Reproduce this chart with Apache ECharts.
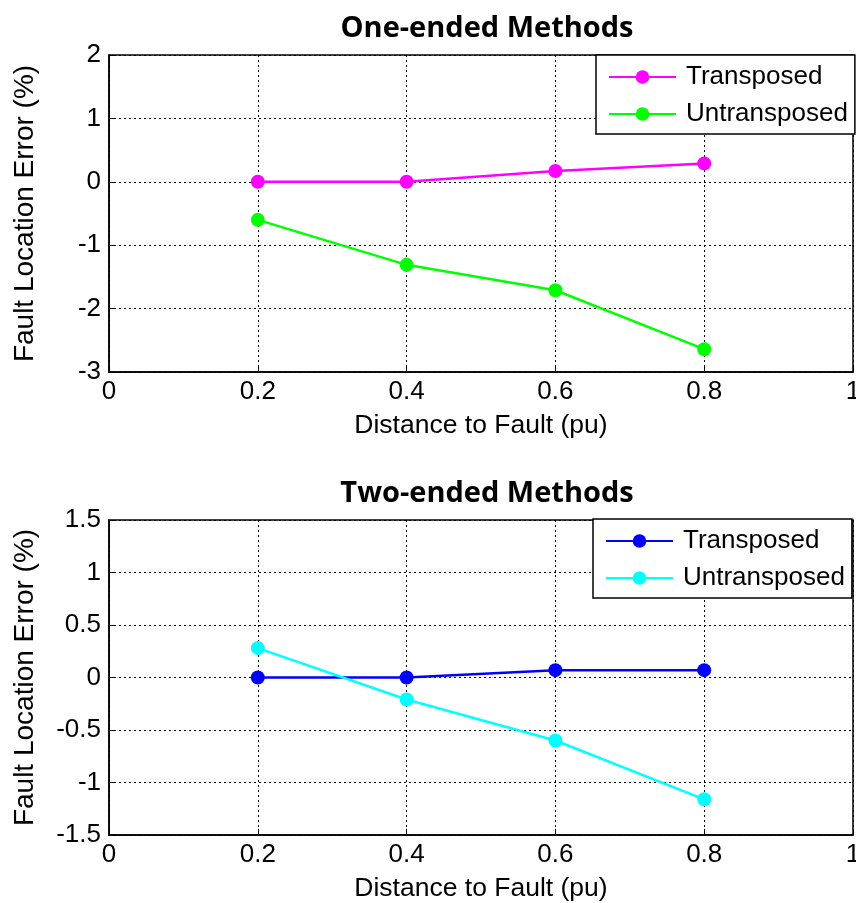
<!DOCTYPE html>
<html><head><meta charset="utf-8">
<script src="https://cdn.jsdelivr.net/npm/echarts@6/dist/echarts.min.js"></script>
<style>html,body{margin:0;padding:0;background:#fff}#c{width:856px;height:903px}</style>
</head><body><div id="c"></div>
<script>
const xValues = [0.2, 0.4, 0.6, 0.8];
const oneTransposed = [0.0, 0.0, 0.17, 0.29];
const oneUntransposed = [-0.60, -1.31, -1.71, -2.64];
const twoTransposed = [0.0, 0.0, 0.07, 0.07];
const twoUntransposed = [0.28, -0.21, -0.60, -1.16];
const titles = ['One-ended Methods', 'Two-ended Methods'];
const xName = 'Distance to Fault (pu)';
const yName = 'Fault Location Error (%)';
const legendNames = ['Transposed', 'Untransposed'];

const pairs = a => xValues.map((x, i) => [x, a[i]]);
const FONT = 'Liberation Sans, Arial, sans-serif';
const grids = [
  {left: 109, top: 55, width: 744, height: 317},
  {left: 109, top: 520, width: 744, height: 315}
];
const yCfg = [{min: -3, max: 2, interval: 1}, {min: -1.5, max: 1.5, interval: 0.5}];
const dashed = {show: true, lineStyle: {color: '#000', type: [2, 3], width: 1}};

function mkX(i) {
  return {
    type: 'value', gridIndex: i, min: 0, max: 1, interval: 0.2,
    name: xName, nameLocation: 'middle', nameGap: 40,
    nameTextStyle: {fontFamily: FONT, fontSize: 26.5, color: '#000'},
    axisLine: {show: true, onZero: false, lineStyle: {color: '#000', width: 1.5}},
    axisTick: {show: true, inside: true, length: 6, lineStyle: {color: '#000'}},
    axisLabel: {fontFamily: FONT, fontSize: 26, color: '#000', margin: 7, formatter: v => String(+v.toFixed(1))},
    splitLine: dashed
  };
}
function mkY(i) {
  return Object.assign({
    type: 'value', gridIndex: i,
    name: yName, nameLocation: 'middle', nameGap: 70,
    nameTextStyle: {fontFamily: FONT, fontSize: 28, color: '#000'},
    axisLine: {show: true, onZero: false, lineStyle: {color: '#000', width: 1.5}},
    axisTick: {show: true, inside: true, length: 6, lineStyle: {color: '#000'}},
    axisLabel: {fontFamily: FONT, fontSize: 26, color: '#000', margin: 8, formatter: v => String(+v.toFixed(1))},
    splitLine: dashed
  }, yCfg[i]);
}
function ser(name, data, color, gi) {
  return {
    type: 'line', name: name, xAxisIndex: gi, yAxisIndex: gi, data: pairs(data),
    symbol: 'circle', symbolSize: 14, showSymbol: true,
    lineStyle: {color: color, width: 2.5},
    itemStyle: {color: color},
    emphasis: {disabled: true}, animation: false
  };
}
const chart = echarts.init(document.getElementById('c'), null, {renderer: 'canvas'});
const legendFmt = n => n.replace(/ \(.*\)$/, '');
const legendBase = {
  orient: 'vertical', backgroundColor: '#fff', borderColor: '#000', borderWidth: 1.5,
  padding: [9, 7, 7, 12], itemGap: 11, itemWidth: 67, itemHeight: 17,
  textStyle: {fontFamily: FONT, fontSize: 26, color: '#000', padding: [0, 0, 0, 5]}, formatter: legendFmt,
  selectedMode: false
};
chart.setOption({
  animation: false,
  title: titles.map((t, i) => ({
    text: t, left: 482, textAlign: 'center', top: i === 0 ? 9 : 474,
    textStyle: {fontFamily: 'Open Sans, sans-serif', fontWeight: 'bold', fontSize: 29, color: '#000'}
  })),
  grid: grids.map(g => Object.assign({show: true, borderColor: '#000', borderWidth: 1.5, backgroundColor: '#fff', containLabel: false, outerBoundsMode: 'none'}, g)),
  xAxis: [mkX(0), mkX(1)],
  yAxis: [mkY(0), mkY(1)],
  legend: [
    Object.assign({}, legendBase, {left: 596, top: 55, data: legendNames.map(n => n + ' (one)')}),
    Object.assign({}, legendBase, {left: 593, top: 519, data: legendNames.map(n => n + ' (two)')})
  ],
  series: [
    ser('Transposed (one)', oneTransposed, '#ff00ff', 0),
    ser('Untransposed (one)', oneUntransposed, '#00ff00', 0),
    ser('Transposed (two)', twoTransposed, '#0000ff', 1),
    ser('Untransposed (two)', twoUntransposed, '#00ffff', 1)
  ]
});
</script></body></html>
